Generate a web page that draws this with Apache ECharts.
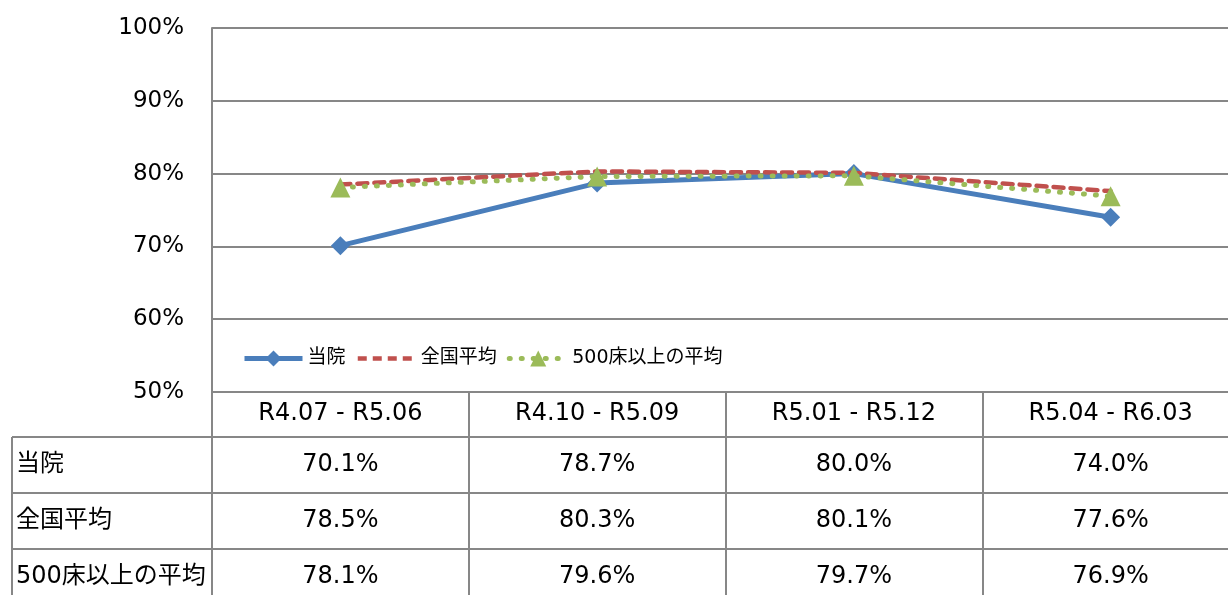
<!DOCTYPE html>
<html>
<head>
<meta charset="utf-8">
<script src="https://cdn.jsdelivr.net/npm/echarts@6/dist/echarts.min.js"></script>
<style>
  html, body { margin: 0; padding: 0; background: #fff; }
  #chart { width: 1228px; height: 595px; }
</style>
</head>
<body>
<div id="chart"></div>
<script>
// 期間
const periods = ['R4.07 - R5.06', 'R4.10 - R5.09', 'R5.01 - R5.12', 'R5.04 - R6.03']
const seriesNames = ['当院', '全国平均', '500床以上の平均']
// 値（%）
const tohin = [70.1, 78.7, 80.0, 74.0]
const zenkoku = [78.5, 80.3, 80.1, 77.6]
const over500 = [78.1, 79.6, 79.7, 76.9]
const yTicks = { min: 50, max: 100, interval: 10 }

const FONT = '"DejaVu Sans", "Noto Sans CJK JP", sans-serif'
const GRID_COLOR = '#878787'
const BLUE = '#4A7EBB'
const RED = '#C0504D'
const GREEN = '#9BBB59'
const rowData = [tohin, zenkoku, over500]

const chart = echarts.init(document.getElementById('chart'))
const option = {
  animation: false,
  textStyle: { fontFamily: FONT, color: '#000' },
  grid: { left: 212, top: 28, width: 1027, height: 364, outerBoundsMode: 'none', containLabel: false },
  legend: {
    left: 237,
    top: 344,
    itemWidth: 58,
    itemHeight: 20,
    itemGap: 10,
    textStyle: { fontSize: 19, color: '#000', fontFamily: FONT },
    data: [
      { name: seriesNames[0], lineStyle: { color: BLUE, width: 5 } },
      { name: seriesNames[1], lineStyle: { color: RED, width: 4.5, type: [9, 6], cap: 'butt' }, itemStyle: { opacity: 0 } },
      { name: seriesNames[2], lineStyle: { color: GREEN, width: 5, type: [1, 11], cap: 'round' } }
    ]
  },
  xAxis: {
    type: 'category',
    data: periods,
    boundaryGap: true,
    axisLine: { show: true, lineStyle: { color: GRID_COLOR, width: 2 } },
    axisTick: { show: true, inside: false, length: 210, lineStyle: { color: GRID_COLOR, width: 2 } },
    axisLabel: { fontSize: 24, color: '#000', margin: 10, fontFamily: FONT }
  },
  yAxis: {
    type: 'value',
    min: yTicks.min,
    max: yTicks.max,
    interval: yTicks.interval,
    axisLine: { show: true, lineStyle: { color: GRID_COLOR, width: 2 } },
    axisTick: { show: false },
    splitLine: { lineStyle: { color: GRID_COLOR, width: 2 } },
    axisLabel: { fontSize: 23, color: '#000', margin: 28, formatter: '{value}%', fontFamily: FONT }
  },
  series: [
    {
      name: seriesNames[0],
      type: 'line',
      data: tohin,
      symbol: 'diamond',
      symbolSize: 19,
      itemStyle: { color: BLUE },
      lineStyle: { color: BLUE, width: 5 },
      z: 2
    },
    {
      name: seriesNames[1],
      type: 'line',
      data: zenkoku,
      symbol: 'none',
      itemStyle: { color: RED },
      lineStyle: { color: RED, width: 4.5, type: [10, 7], cap: 'round' },
      z: 3
    },
    {
      name: seriesNames[2],
      type: 'line',
      data: over500,
      symbol: 'triangle',
      symbolSize: 20,
      itemStyle: { color: GREEN },
      lineStyle: { color: GREEN, width: 5, type: [1, 11], cap: 'round' },
      z: 4
    }
  ]
}
chart.setOption(option)

// データテーブル
const rowTops = [437, 493, 549]
const rowH = 56
const graphic = []
rowTops.forEach(function(y) {
  graphic.push({ type: 'line', shape: { x1: 12, y1: y, x2: 1239, y2: y }, style: { stroke: GRID_COLOR, lineWidth: 2 } })
})
graphic.push({ type: 'line', shape: { x1: 12, y1: 437, x2: 12, y2: 600 }, style: { stroke: GRID_COLOR, lineWidth: 2 } })
rowData.forEach(function(vals, r) {
  const cy = rowTops[r] + rowH / 2
  graphic.push({
    type: 'text', x: 16, y: cy,
    style: { text: seriesNames[r], fontSize: 24, fontFamily: FONT, fill: '#000', verticalAlign: 'middle', align: 'left' }
  })
  vals.forEach(function(v, i) {
    const cx = chart.convertToPixel({ xAxisIndex: 0 }, periods[i])
    graphic.push({
      type: 'text', x: cx, y: cy,
      style: { text: v.toFixed(1) + '%', fontSize: 24, fontFamily: FONT, fill: '#000', verticalAlign: 'middle', align: 'center' }
    })
  })
})
chart.setOption({ graphic: graphic })
</script>
</body>
</html>
